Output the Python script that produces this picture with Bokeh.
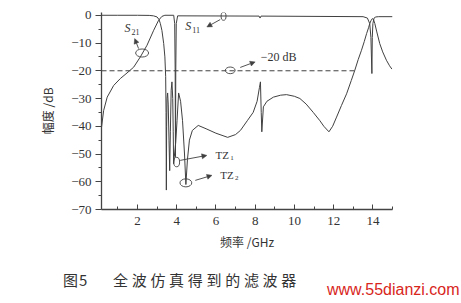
from bokeh.plotting import figure
from bokeh.models import (Range1d, FixedTicker, Label, Arrow, NormalHead, ColumnDataSource, Div)
from bokeh.layouts import column
from bokeh.embed import file_html
from bokeh.resources import INLINE

# ---------------- data ----------------
freq_s21 = [0.17, 0.28, 0.46, 0.79, 1.13, 1.47, 1.81, 2.15, 2.49, 2.83, 3.08, 3.25, 3.4,
            3.85, 3.9, 3.925, 3.94, 3.955, 3.98, 4.05, 8.2, 8.25, 8.3, 13.5, 13.72, 13.84,
            13.9, 13.95, 13.97, 14.0, 14.06, 14.15, 14.3, 15.0]
s21_db = [-40.4, -34.3, -29.5, -25.3, -22.8, -20.8, -18.7, -15.0, -10.8, -5.4, -1.8, -0.4, 0.0,
          0.0, -3.0, -20.0, -51.0, -20.0, -3.0, -0.2, -0.3, -1.0, -0.3, -0.5, -1.0, -3.0,
          -8.0, -21.0, -8.0, -3.0, -1.0, -0.6, -0.5, -0.5]

freq_s11 = [0.17, 1.0, 2.0, 2.6, 2.82, 3.0, 3.1, 3.17, 3.25, 3.34, 3.40, 3.44, 3.46, 3.475,
            3.49, 3.51, 3.54, 3.57, 3.61, 3.645, 3.68, 3.72, 3.76, 3.8, 3.825, 3.845, 3.88,
            3.95, 4.02, 4.1, 4.2, 4.3, 4.4, 4.47, 4.55, 4.65, 4.8, 5.1, 5.5, 6.0, 6.6, 7.0,
            7.25, 7.6, 7.9, 8.1, 8.22, 8.27, 8.31, 8.34, 8.42, 8.6, 8.93, 9.3, 9.6, 10.0,
            10.28, 10.6, 10.96, 11.3, 11.5, 11.76, 11.95, 12.15, 12.4, 12.66, 12.9, 13.08,
            13.25, 13.42, 13.56, 13.68, 13.78, 13.84, 13.9, 13.97, 14.03, 14.1, 14.2, 14.35,
            14.5, 14.69, 14.85, 14.97]
s11_db = [0.0, 0.0, 0.0, -0.05, -0.2, -0.6, -1.5, -3.0, -5.5, -10.2, -15.0, -22.0, -35.0, -63.0,
          -40.0, -30.0, -28.0, -32.0, -45.0, -56.0, -42.0, -27.0, -24.0, -30.0, -42.0, -53.5, -51.0,
          -46.0, -38.0, -28.0, -31.0, -38.0, -50.0, -61.0, -52.0, -45.0, -41.5, -39.7, -40.9, -42.5, -44.0, -43.0,
          -41.5, -38.0, -35.0, -31.0, -26.0, -24.0, -35.0, -42.0, -33.0, -31.0, -29.5, -28.8, -28.6, -29.2,
          -30.0, -32.0, -35.0, -38.0, -40.0, -42.0, -40.0, -36.7, -32.5, -28.3, -23.5, -19.8,
          -16.0, -12.6, -9.5, -6.6, -4.5, -3.0, -2.0, -1.2, -1.5, -3.0, -6.0, -10.2,
          -13.2, -16.2, -18.2, -19.4]

ref_level_db = -20
ref_end_ghz = 13.08

x_ticks = [2, 4, 6, 8, 10, 12, 14]
x_minor = [1, 3, 5, 7, 9, 11, 13, 15]
y_ticks = [0, -10, -20, -30, -40, -50, -60, -70]
y_minor = [-5, -15, -25, -35, -45, -55, -65]

caption_fig = "图5"
caption_text = "全波仿真得到的滤波器"
watermark = "www.55dianzi.com"

# ---------------- main figure ----------------
X0, X1 = 0.17, 15.0
Y0, Y1 = -70.0, 1.0
p = figure(width=461, height=258, output_backend="svg", toolbar_location=None,
           x_range=Range1d(X0, X1), y_range=Range1d(Y0, Y1),
           min_border_left=101, min_border_right=69, min_border_top=12, min_border_bottom=49)
p.outline_line_color = None
p.grid.visible = False
p.background_fill_color = "white"
p.border_fill_color = "white"

SERIF = "Liberation Serif"
CJK = "Noto Sans CJK SC"
AX = "#444444"
TC = "#333333"

xa = p.xaxis[0]
xa.ticker = FixedTicker(ticks=x_ticks, minor_ticks=x_minor)
xa.axis_line_color = AX
xa.axis_line_width = 1.3
xa.major_tick_line_color = AX
xa.minor_tick_line_color = AX
xa.major_tick_in = 5
xa.major_tick_out = 0
xa.minor_tick_in = 3
xa.minor_tick_out = 0
xa.major_label_text_font = SERIF
xa.major_label_text_font_size = "13px"
xa.major_label_text_color = TC
xa.major_label_standoff = 7
xa.axis_label = "频率 /GHz"
xa.axis_label_text_font = CJK
xa.axis_label_text_font_size = "12px"
xa.axis_label_text_font_style = "normal"
xa.axis_label_text_color = TC
xa.axis_label_standoff = 5

ya = p.yaxis[0]
ya.ticker = FixedTicker(ticks=y_ticks, minor_ticks=y_minor)
ya.axis_line_color = AX
ya.axis_line_width = 1.3
ya.major_tick_line_color = AX
ya.minor_tick_line_color = AX
ya.major_tick_in = 0
ya.major_tick_out = 6
ya.minor_tick_in = 0
ya.minor_tick_out = 3
ya.major_label_text_font = SERIF
ya.major_label_text_font_size = "13px"
ya.major_label_text_color = TC
ya.major_label_standoff = 4
ya.major_label_overrides = {t: ("\u2212" + str(-t) if t < 0 else str(t)) for t in y_ticks}
ya.axis_label = "幅度 /dB"
ya.axis_label_text_font = CJK
ya.axis_label_text_font_size = "12px"
ya.axis_label_text_font_style = "normal"
ya.axis_label_text_color = TC
ya.axis_label_standoff = 12

LC = "#404040"
p.line(freq_s11, s11_db, line_color=LC, line_width=1)
p.line(freq_s21, s21_db, line_color=LC, line_width=1)
p.line([X0, ref_end_ghz], [ref_level_db, ref_level_db], line_color=LC, line_width=1,
       line_dash="5 3")

ell = ColumnDataSource(dict(
    x=[2.24, 6.39, 6.73, 4.0, 4.47],
    y=[-13.6, -0.36, -19.85, -52.9, -60.4],
    w=[0.66, 0.25, 0.5, 0.3, 0.6],
    h=[2.9, 2.9, 2.4, 3.4, 2.9],
))
p.ellipse(x="x", y="y", width="w", height="h", source=ell, fill_color=None,
          line_color=LC, line_width=0.9)

arrows = [((2.06, -12.0), (1.86, -8.4)),
          ((6.22, -1.55), (5.54, -4.2)),
          ((7.24, -18.8), (8.0, -16.8)),
          ((4.18, -52.3), (5.54, -50.5)),
          ((4.95, -59.5), (5.8, -57.7))]
for (xs, ys), (xe, ye) in arrows:
    p.add_layout(Arrow(end=NormalHead(size=5, fill_color=LC, line_color=LC, line_width=0.5),
                       x_start=xs, y_start=ys, x_end=xe, y_end=ye,
                       line_color=LC, line_width=0.9))

def lab(x, y, text, size, style="normal", font=SERIF, xo=0, yo=0, align="center", color=TC):
    p.add_layout(Label(x=x, y=y, text=text, text_font=font, text_font_size=size,
                       text_font_style=style, text_align=align, text_baseline="middle",
                       x_offset=xo, y_offset=yo, text_color=color))

lab(1.49, -4.7, "S", "12px", "italic")
lab(1.49, -4.7, "21", "8px", xo=4, yo=-4, align="left")
lab(4.59, -4.0, "S", "12px", "italic")
lab(4.59, -4.0, "11", "8px", xo=4, yo=-4, align="left")
lab(6.32, -50.2, "TZ", "11px")
lab(6.32, -50.2, "1", "7px", xo=8, yo=-3, align="left")
lab(6.57, -57.4, "TZ", "11px")
lab(6.57, -57.4, "2", "7px", xo=8, yo=-3, align="left")
lab(9.27, -15.2, "\u221220  dB", "12px")

# ---------------- caption strip ----------------
html = (
    '<div style="position:relative;width:461px;height:45px;overflow:hidden;">'
    '<span style="position:absolute;left:63px;top:11px;font-family:\'Noto Sans CJK SC\';'
    'font-size:15px;line-height:22px;color:#333;letter-spacing:1px;white-space:nowrap;">'
    + caption_fig + '</span>'
    '<span style="position:absolute;left:113px;top:11px;font-family:\'Noto Sans CJK SC\';'
    'font-size:15px;line-height:22px;color:#333;letter-spacing:3.7px;white-space:nowrap;">'
    + caption_text + '</span>'
    '<span style="position:absolute;left:327px;top:23px;font-family:\'Liberation Sans\';'
    'font-size:16px;line-height:18px;color:#d8261c;white-space:nowrap;">'
    + watermark + '</span>'
    '</div>'
)
cap = Div(text=html, width=461, height=45, margin=(0, 0, 0, 0))

layout = column(p, cap, spacing=0)
open("out.html", "w").write(file_html(layout, INLINE))
